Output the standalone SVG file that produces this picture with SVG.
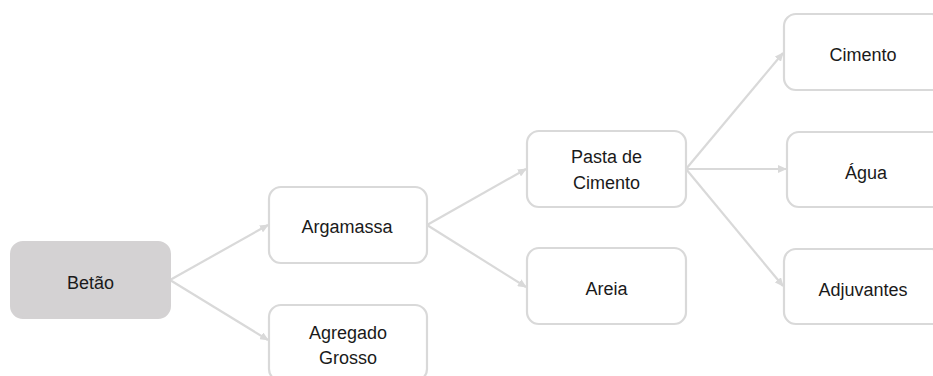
<svg xmlns="http://www.w3.org/2000/svg" width="933" height="376" viewBox="0 0 933 376">
<style>
.box{fill:#ffffff;stroke:#d9d9d9;stroke-width:2.2}
.root{fill:#d4d2d3;stroke:#d4d2d3;stroke-width:2}
.lbl{font-family:"Liberation Sans",Arial,sans-serif;font-size:18px;fill:#1a1a1a;text-anchor:middle}
.edge{stroke:#d9d9d9;stroke-width:2.2;fill:none;marker-end:url(#ah)}
</style>
<defs>
<marker id="ah" markerUnits="userSpaceOnUse" markerWidth="9" markerHeight="8" refX="8" refY="4" orient="auto">
<path d="M0,0 L9,4 L0,8 Z" fill="#d9d9d9"/>
</marker>
</defs>
<rect width="933" height="376" fill="#ffffff"/>
<g id="connectors">
<line class="edge" x1="170" y1="280" x2="268" y2="225"/>
<line class="edge" x1="170" y1="280" x2="268" y2="340"/>
<line class="edge" x1="427" y1="225" x2="526" y2="169"/>
<line class="edge" x1="427" y1="225" x2="526" y2="287"/>
<line class="edge" x1="686" y1="169" x2="783" y2="53"/>
<line class="edge" x1="686" y1="169" x2="786" y2="169"/>
<line class="edge" x1="686" y1="169" x2="783" y2="286"/>
</g>
<g id="betao">
<rect class="root" x="11" y="242" width="159" height="76" rx="12"/>
<text class="lbl" x="90.5" y="289">Betão</text>
</g>
<g id="argamassa">
<rect class="box" x="269" y="187" width="158" height="76" rx="12"/>
<text class="lbl" x="347" y="233">Argamassa</text>
</g>
<g id="agregado">
<rect class="box" x="269" y="305" width="158" height="76" rx="12"/>
<text class="lbl" x="348" y="339">Agregado</text>
<text class="lbl" x="348" y="364">Grosso</text>
</g>
<g id="pasta">
<rect class="box" x="527" y="131" width="159" height="76" rx="12"/>
<text class="lbl" x="606.5" y="163">Pasta de</text>
<text class="lbl" x="606.5" y="189">Cimento</text>
</g>
<g id="areia">
<rect class="box" x="527" y="248" width="159" height="76" rx="12"/>
<text class="lbl" x="606.5" y="295">Areia</text>
</g>
<g id="cimento">
<rect class="box" x="784" y="14" width="160" height="76" rx="12"/>
<text class="lbl" x="863" y="61">Cimento</text>
</g>
<g id="agua">
<rect class="box" x="787" y="132" width="160" height="75" rx="12"/>
<text class="lbl" x="866" y="179">Água</text>
</g>
<g id="adjuvantes">
<rect class="box" x="784" y="249" width="160" height="75" rx="12"/>
<text class="lbl" x="863" y="296">Adjuvantes</text>
</g>
</svg>
